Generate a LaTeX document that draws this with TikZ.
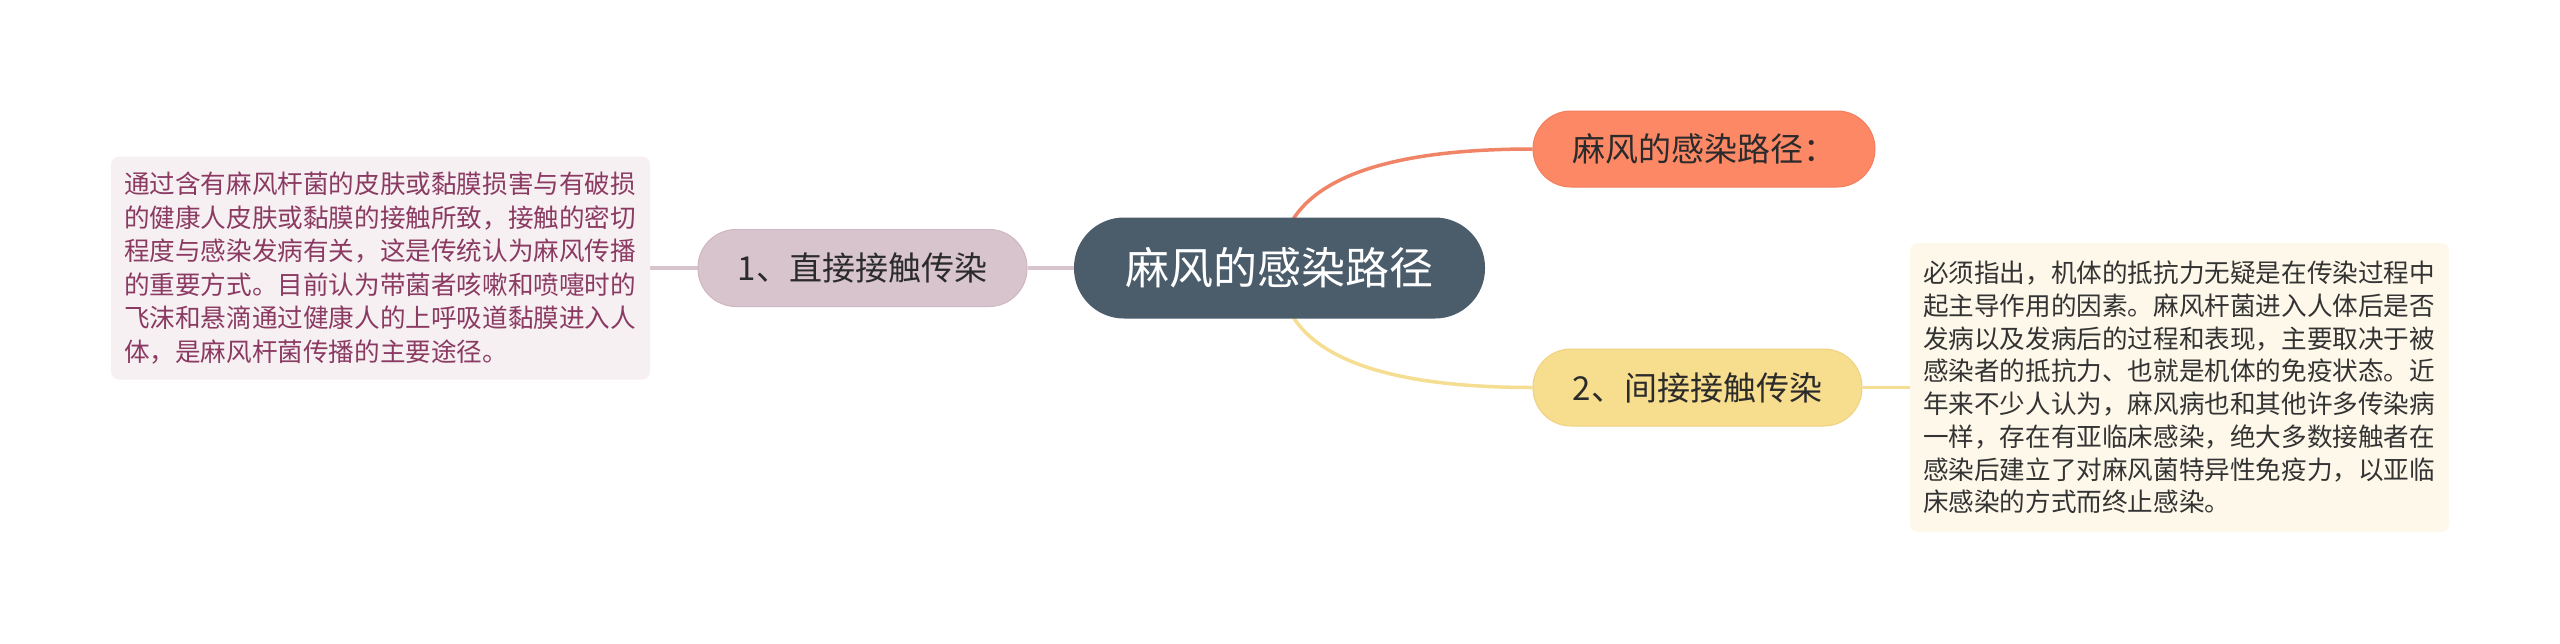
\documentclass[tikz,border=0pt]{standalone}
\usepackage{fontspec}
\setmainfont{Noto Sans CJK SC}
\usetikzlibrary{calc,backgrounds}
\definecolor{cdark}{HTML}{4B5C6B}
\definecolor{cpink}{HTML}{D8C4CD}
\definecolor{cpinkb}{HTML}{CDB7C2}
\definecolor{corange}{HTML}{FD8866}
\definecolor{corangeb}{HTML}{F27E5E}
\definecolor{corangel}{HTML}{F08467}
\definecolor{cyellow}{HTML}{F7DD8E}
\definecolor{cyellowb}{HTML}{EFD283}
\definecolor{cyellowl}{HTML}{F5DD91}
\definecolor{cleftbg}{HTML}{F6F0F3}
\definecolor{clefttx}{HTML}{8B3A62}
\definecolor{crightbg}{HTML}{FDF8EA}
\definecolor{ctext}{HTML}{2B2B2B}
\definecolor{crighttx}{HTML}{333333}
\tikzset{
  rootnode/.style={fill=cdark, text=white, rounded corners=50pt,
    minimum width=411pt, minimum height=101pt, inner sep=0pt,
    font=\fontsize{44}{50}\selectfont},
  branchnode/.style={rounded corners=38pt, minimum height=77pt,
    inner sep=0pt, line width=1pt, text=ctext,
    font=\fontsize{33}{38}\selectfont},
  leafbox/.style={rounded corners=8pt, inner xsep=13pt, inner ysep=0pt,
    text width=513pt, align=left},
  link/.style={line width=3.5pt},
}
\begin{document}
\begin{tikzpicture}[x=1pt,y=-1pt]
\useasboundingbox (0,0) rectangle (2560,643);

\node[rootnode] (c) at (1279.5,268) {麻风的感染路径};

\node[branchnode, fill=cpink, draw=cpinkb, minimum width=329pt] (b1) at (862.5,268) {1、直接接触传染};

\node[branchnode, fill=corange, draw=corangeb, minimum width=342pt, minimum height=76pt] (t) at (1704,149) {麻风的感染路径：};

\node[branchnode, fill=cyellow, draw=cyellowb, minimum width=329pt] (b2) at (1697.5,387.5) {2、间接接触传染};

\node[leafbox, fill=cleftbg, text=clefttx, minimum height=223pt,
  font=\fontsize{25.6}{33.6}\selectfont] (l1) at (380.5,268)
{通过含有麻风杆菌的皮肤或黏膜损害与有破损\\
的健康人皮肤或黏膜的接触所致，接触的密切\\
程度与感染发病有关，这是传统认为麻风传播\\
的重要方式。目前认为带菌者咳嗽和喷嚏时的\\
飞沫和悬滴通过健康人的上呼吸道黏膜进入人\\
体，是麻风杆菌传播的主要途径。};

\node[leafbox, fill=crightbg, text=crighttx, minimum height=289pt,
  font=\fontsize{25.6}{32.7}\selectfont] (r2) at (2179.5,387.5)
{必须指出，机体的抵抗力无疑是在传染过程中\\
起主导作用的因素。麻风杆菌进入人体后是否\\
发病以及发病后的过程和表现，主要取决于被\\
感染者的抵抗力、也就是机体的免疫状态。近\\
年来不少人认为，麻风病也和其他许多传染病\\
一样，存在有亚临床感染，绝大多数接触者在\\
感染后建立了对麻风菌特异性免疫力，以亚临\\
床感染的方式而终止感染。};

\begin{scope}[on background layer]
\fill[white] (0,0) rectangle (2560,643);
\draw[link, cpink] (c.west) -- (b1.east);
\draw[link, cpink] (b1.west) -- (l1.east);
\draw[link, corangel] (c.center) .. controls ($(c.center)!0.6667!(c.center|-t.west)$) and ($(t.west)!0.6667!(c.center|-t.west)$) .. (t.west);
\draw[link, cyellowl] (c.center) .. controls ($(c.center)!0.6667!(c.center|-b2.west)$) and ($(b2.west)!0.6667!(c.center|-b2.west)$) .. (b2.west);
\draw[link, cyellowl] (b2.east) -- (r2.west);
\end{scope}
\end{tikzpicture}
\end{document}
